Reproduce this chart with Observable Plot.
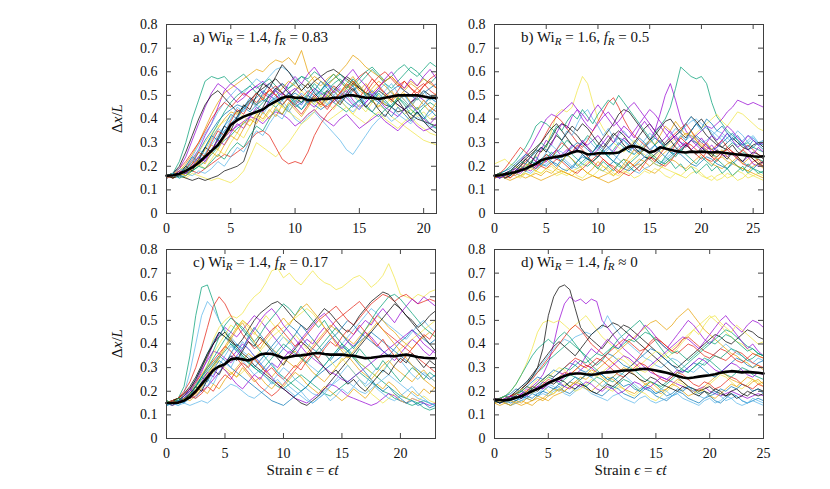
<!DOCTYPE html>
<html><head><meta charset="utf-8">
<script src="https://cdn.jsdelivr.net/npm/d3@7"></script>
<script src="https://cdn.jsdelivr.net/npm/@observablehq/plot@0.6"></script>
<style>
body{margin:0;background:#fff;}
#wrap{position:relative;width:830px;height:489px;overflow:hidden;background:#fff;}
#wrap svg{position:absolute;left:0;overflow:visible;}
#wrap svg, #wrap svg text, #wrap svg g{font-family:"Liberation Serif","DejaVu Serif",serif !important;}
</style></head><body><div id="wrap"></div>
<script>
// gnuplot default line colours
const lineColors = ["#9400d3","#009e73","#56b4e9","#e69f00","#f0e442","#0072b2","#e51e10","#000000"];
const yTicks = [0,0.1,0.2,0.3,0.4,0.5,0.6,0.7,0.8];
const xTicksA = [0,5,10,15,20];
const xTicksB = [0,5,10,15,20,25];
const xTicksC = [0,5,10,15,20];
const xTicksD = [0,5,10,15,20,25];
const strainStep = 0.5;

// Panel a) runs (Δx/L ×100), strain 0..21 step 0.5
const runsA = [
[16,15,17,19,23,27,33,38,45,52,55,53,50,52,54,51,49,53,55,52,48,46,50,53,51,49,47,50,52,48,45,47,50,53,51,48,46,44,47,50,48,45,43],
[16,17,22,30,40,48,56,58,57,58,55,57,59,56,53,55,57,54,51,53,55,58,56,53,50,52,55,57,54,52,55,58,61,58,55,53,56,59,62,60,57,55,58],
[15,16,16,18,20,22,25,29,33,37,40,43,45,47,46,44,47,50,48,44,40,38,41,43,40,37,34,31,27,25,29,33,37,40,42,39,41,44,46,43,40,42,45],
[16,17,18,21,25,30,36,42,47,51,53,55,57,59,61,60,63,65,64,66,63,69,60,56,54,57,59,56,53,55,52,50,53,56,54,51,49,52,55,53,50,48,51],
[15,16,16,15,17,16,15,14,15,14,13,15,18,24,30,28,26,24,27,30,34,38,40,43,47,50,48,51,53,50,48,45,43,46,44,41,39,37,35,33,31,30,29],
[16,16,17,19,22,26,31,35,39,42,44,46,45,43,46,48,47,49,51,48,45,47,49,46,44,46,48,50,47,45,48,50,52,49,47,45,48,50,47,44,46,49,47],
[16,15,16,17,18,17,19,21,23,25,24,26,28,31,34,35,33,28,23,21,22,21,26,33,38,42,45,48,51,55,58,60,57,54,56,58,55,52,50,53,55,52,50],
[16,15,16,15,14,15,14,15,16,18,19,20,22,30,40,45,50,53,51,49,52,55,53,56,58,60,61,59,57,55,53,51,50,48,46,45,43,44,42,40,39,38,37],
[16,17,19,24,31,38,45,51,55,53,50,47,49,52,54,56,53,50,48,51,53,50,47,45,48,51,54,52,49,46,44,47,50,48,45,43,41,44,46,43,40,38,41],
[15,16,16,17,18,20,22,25,28,31,33,36,38,41,44,47,50,52,55,53,56,58,57,60,58,55,57,59,56,54,57,60,62,59,56,58,61,63,60,58,61,64,62],
[16,16,18,20,24,29,34,38,43,47,50,53,51,54,57,55,58,61,62,60,57,54,51,49,52,55,52,48,45,43,46,49,52,50,47,45,42,40,38,41,39,37,36],
[15,16,17,18,20,23,27,32,36,40,43,42,45,48,46,49,52,50,53,56,54,52,55,58,56,54,57,60,63,67,65,62,60,58,56,58,55,53,56,54,57,55,53],
[16,17,18,20,23,26,30,34,37,39,41,43,41,39,42,44,46,48,45,43,41,39,42,44,41,39,41,43,45,42,40,38,41,43,40,38,36,39,41,38,36,34,33],
[15,16,16,17,19,21,24,27,31,35,38,41,44,47,49,52,50,48,46,49,51,49,47,50,52,55,53,51,49,52,54,51,49,47,50,52,54,52,50,48,51,53,55],
[16,17,19,22,26,30,35,40,44,47,45,48,51,49,47,50,52,54,51,48,46,49,52,50,47,45,48,51,54,56,53,51,55,58,60,57,54,56,53,51,54,56,53],
[16,17,20,26,33,40,46,50,52,49,46,43,45,48,51,53,55,57,54,51,49,47,50,48,46,49,52,55,58,56,53,51,49,52,50,48,46,44,47,49,52,50,48],
[15,16,17,18,19,21,23,26,29,32,35,37,39,41,40,38,41,43,42,40,37,39,42,44,41,39,37,40,42,39,36,38,40,42,39,37,35,38,40,37,35,36,38],
[16,16,17,19,21,24,28,33,38,43,47,50,52,54,51,49,47,45,48,50,46,44,47,49,52,50,47,45,43,46,48,45,43,41,44,46,49,47,44,42,45,47,45],
[15,16,15,17,16,18,17,19,22,20,24,28,26,31,35,33,38,42,40,45,48,46,50,47,51,54,52,49,53,50,47,51,48,52,55,51,48,50,46,49,52,48,50],
[16,17,16,19,22,20,25,29,27,32,36,34,39,37,42,40,44,41,46,43,47,50,46,49,45,48,52,49,53,56,52,55,51,54,50,47,51,48,45,49,46,43,47],
[16,15,17,16,18,21,19,23,27,25,30,34,32,37,41,39,43,47,45,50,48,52,49,46,50,47,44,48,45,42,46,43,47,50,46,49,45,42,44,41,43,40,42],
[15,17,16,20,24,22,28,33,31,37,42,40,45,49,46,51,55,52,48,51,47,44,48,52,56,53,50,47,51,54,50,46,43,47,44,41,45,42,39,43,40,44,41],
[16,16,18,17,21,26,24,30,35,33,39,44,42,47,51,48,53,50,46,49,45,42,46,50,47,44,48,51,55,52,49,53,57,54,51,48,52,56,53,50,54,57,59],
[16,15,17,20,18,23,28,26,32,37,35,41,46,44,50,55,53,58,63,60,56,52,55,51,48,52,49,46,50,53,49,45,48,44,41,45,48,44,40,43,39,36,34],
[15,16,18,17,20,24,22,27,31,29,34,38,36,41,45,43,48,52,50,55,58,55,59,62,58,55,51,54,58,61,57,54,50,53,57,60,56,53,57,54,58,61,57],
[16,17,15,16,18,20,19,22,25,23,27,30,28,33,37,35,40,44,42,46,49,47,51,55,52,56,59,56,53,57,54,50,47,51,48,45,49,46,42,45,41,38,36],
[16,17,19,18,22,27,25,31,36,34,40,45,43,48,45,42,46,49,46,43,47,51,48,52,49,46,50,53,50,47,44,48,51,48,52,55,51,48,45,49,46,50,47],
[15,16,17,16,19,23,21,26,24,29,33,31,36,40,38,43,40,45,42,47,44,41,45,49,46,50,54,51,55,58,54,51,48,45,49,52,48,51,47,44,48,45,43]
];
// mean (×1000)
const meanA = [160,162,168,180,195,215,240,265,290,330,375,395,410,420,430,440,460,475,490,495,490,490,480,480,485,485,490,490,500,500,495,490,490,485,490,495,500,500,500,500,495,490,490];

// Panel b) strain 0..26
const runsB = [
[16,15,16,17,16,18,19,18,20,21,22,24,23,25,27,26,28,30,29,31,33,30,28,26,29,32,30,27,25,28,31,35,42,50,55,48,40,35,32,30,28,27,29,26,25,24,26,23,22,24,21,20,22],
[16,17,16,18,17,19,20,22,21,23,25,24,26,28,31,29,27,30,33,31,28,26,24,27,30,28,26,25,27,29,31,34,37,40,45,53,62,60,58,57,58,55,47,41,38,35,33,31,29,30,28,27,26],
[15,16,17,16,18,19,18,20,22,21,23,25,27,26,24,26,28,30,32,29,27,25,27,30,33,35,32,30,28,31,34,32,30,28,31,33,35,37,39,40,38,36,35,33,31,34,32,30,29,31,33,30,28],
[16,15,16,15,17,16,15,16,17,16,18,17,19,18,17,16,18,19,17,16,15,16,17,19,21,23,22,20,21,19,18,17,19,21,23,22,20,19,21,23,25,23,21,20,19,21,22,20,19,18,20,21,19],
[21,22,23,21,20,19,20,22,24,26,28,35,42,44,43,45,52,58,55,47,40,36,33,30,28,26,28,31,29,27,25,24,26,28,30,32,30,28,31,34,36,38,40,42,39,37,40,43,42,40,38,36,35],
[16,16,17,18,17,19,18,20,19,21,20,22,21,19,18,20,22,24,23,21,19,18,20,22,21,19,18,20,22,24,23,21,20,22,24,26,25,23,21,20,22,24,23,21,20,19,21,23,22,20,19,21,20],
[15,16,15,17,18,20,22,24,27,30,34,38,41,39,36,33,30,28,31,35,39,43,47,49,45,40,36,33,31,29,27,26,28,30,32,34,36,38,35,32,30,28,27,29,31,28,26,25,27,29,27,25,24],
[16,17,16,18,19,21,23,25,27,26,29,32,36,38,37,35,33,30,28,26,29,32,35,38,42,44,43,40,37,34,31,33,36,39,40,37,34,32,35,38,40,37,33,30,28,27,29,26,25,24,26,25,23],
[16,15,17,18,20,22,25,28,32,36,40,42,41,43,45,47,44,40,37,35,38,41,43,40,37,34,32,35,38,41,44,42,39,36,34,32,30,29,31,33,35,37,36,38,40,43,45,48,47,46,47,46,45],
[16,17,18,20,22,25,28,32,37,39,38,36,34,31,28,25,23,21,20,22,24,26,24,22,20,19,21,23,25,27,26,24,22,21,23,25,27,29,31,30,28,26,25,24,26,28,30,28,26,25,24,23,22],
[15,16,15,16,17,16,18,17,19,20,21,23,25,24,22,20,19,21,23,26,28,30,28,25,23,21,19,18,17,19,20,22,21,23,25,27,29,31,33,32,30,31,33,35,34,32,30,29,31,33,32,30,31],
[15,16,15,14,15,16,17,16,15,14,15,16,17,18,17,16,15,14,15,16,15,14,13,14,15,17,19,21,23,22,20,22,24,26,28,30,32,34,33,31,29,27,25,23,24,22,21,20,19,18,17,16,15],
[16,17,16,18,17,16,18,19,18,17,19,20,18,17,16,18,19,20,22,21,19,18,17,16,18,20,22,24,26,25,23,21,20,19,18,17,16,15,17,18,16,15,14,16,17,15,16,18,17,15,16,17,16],
[16,17,18,19,21,23,25,24,26,28,27,25,23,24,26,28,30,29,27,25,24,26,28,30,32,31,29,27,26,28,30,32,30,28,26,25,27,29,31,33,31,29,27,28,30,32,34,31,29,27,28,30,29],
[16,17,19,22,25,28,26,24,22,20,19,21,23,22,20,18,17,19,21,23,25,23,21,20,18,17,16,18,20,22,24,23,21,20,22,25,28,30,29,27,25,23,22,24,26,27,25,23,21,20,22,23,21],
[15,16,17,18,20,22,24,26,28,30,33,36,38,35,32,29,27,25,23,22,24,27,30,33,35,33,30,28,26,24,23,25,27,29,31,33,35,38,41,39,36,33,31,29,28,30,32,30,28,27,29,30,28],
[16,17,15,16,18,17,19,21,20,23,22,25,27,24,26,29,27,31,28,25,27,30,33,30,34,37,35,32,36,39,36,33,30,32,35,31,28,30,27,29,32,29,26,28,31,34,31,28,30,27,25,28,26],
[15,16,17,16,18,20,19,22,24,21,23,26,24,22,25,23,20,22,24,21,19,22,20,18,21,23,20,18,20,22,25,23,21,24,22,19,21,18,20,17,19,21,18,20,17,19,16,18,20,17,19,18,17],
[16,15,17,16,18,20,18,21,24,22,26,29,27,31,35,33,38,42,44,40,37,33,36,32,29,31,28,25,27,24,26,29,27,30,33,36,34,38,41,38,35,37,34,31,33,30,32,35,33,30,32,29,31],
[16,17,16,18,17,19,21,20,18,20,23,21,19,22,25,23,21,19,17,19,22,20,18,16,18,21,24,27,25,28,31,29,33,37,35,39,36,33,35,31,28,30,27,25,27,24,22,24,21,23,25,22,20],
[15,16,15,17,16,15,17,16,18,17,19,18,16,17,19,18,16,15,17,16,18,20,19,17,16,18,17,15,16,18,17,19,18,16,15,17,16,18,20,19,17,15,16,14,15,17,16,14,15,17,16,15,14],
[16,15,16,18,17,19,18,20,22,21,24,22,20,23,21,19,22,25,23,26,29,27,24,22,25,28,26,29,32,30,27,29,26,24,27,30,33,31,35,38,36,40,38,35,37,34,31,33,30,28,31,29,27],
[15,16,17,15,17,19,18,21,19,22,25,23,27,30,28,26,29,27,24,22,20,23,21,19,17,19,22,20,18,21,24,22,25,28,26,29,32,30,27,25,23,26,24,22,25,28,26,24,27,25,23,21,20],
[16,17,15,16,18,20,23,21,25,28,26,30,33,31,34,37,35,38,36,33,30,28,31,34,32,29,27,30,33,36,38,35,32,29,31,28,26,29,27,25,28,26,24,27,25,23,26,24,22,25,23,21,22],
[16,15,16,17,19,18,21,24,22,27,31,29,34,38,36,41,44,42,39,43,46,43,40,37,39,42,45,47,44,41,38,35,37,34,31,33,30,28,31,29,27,30,33,31,34,37,35,32,30,33,31,29,30],
[16,17,16,18,20,22,21,24,27,30,28,33,37,35,39,42,40,44,41,38,42,45,48,46,50,47,44,41,38,35,32,29,31,28,26,24,27,25,23,21,24,22,20,23,21,19,22,20,18,21,19,17,18]
];
const meanB = [160,162,166,170,175,182,190,200,210,225,232,236,240,243,250,258,265,260,250,252,255,255,255,255,258,270,283,285,280,270,258,265,280,275,270,265,260,258,262,260,262,260,258,260,258,255,252,250,248,245,242,240,242];

// Panel c) strain 0..23
const runsC = [
[15,16,15,17,19,23,28,34,40,44,47,45,43,46,49,52,50,47,44,41,38,36,39,42,45,48,51,53,50,47,44,41,39,42,45,43,40,37,35,33,36,39,42,40,37,35,38],
[15,16,17,22,35,52,64,65,58,50,45,41,38,35,33,30,28,26,24,22,21,23,25,27,25,23,21,19,18,20,22,24,26,28,26,24,22,20,19,17,16,15,14,15,13,12,13],
[15,16,16,19,28,40,52,58,55,50,46,43,40,37,35,33,31,34,37,40,43,41,38,35,32,30,28,31,34,37,40,43,46,49,52,55,53,50,48,46,44,42,45,48,50,47,45],
[15,14,15,16,17,19,22,25,28,31,29,27,30,33,36,34,31,28,26,29,32,35,37,34,31,28,26,24,27,30,33,35,32,29,27,25,28,31,33,30,28,26,24,27,29,26,24],
[16,15,17,18,20,24,29,35,42,47,50,52,51,53,57,60,62,66,71,72,68,70,67,65,68,71,68,66,65,63,64,66,68,69,67,64,66,69,74,68,61,60,59,61,60,62,63],
[14,15,16,18,21,25,30,36,41,45,43,40,37,34,32,30,33,36,39,42,45,48,46,43,40,38,36,39,42,44,47,50,48,45,43,41,39,37,35,38,41,43,46,44,42,40,42],
[15,16,17,20,24,30,38,47,56,60,57,52,48,44,41,38,40,43,46,48,45,42,39,41,44,47,50,52,54,56,53,50,48,51,54,57,59,61,60,58,60,61,59,57,58,59,58],
[15,16,17,19,22,26,31,36,40,43,45,42,39,42,46,50,53,55,57,58,56,53,50,48,46,49,52,55,53,50,47,45,48,52,55,58,60,62,61,58,55,52,50,47,49,52,54],
[15,14,15,16,17,18,20,22,25,28,31,34,37,40,38,35,32,29,26,23,21,19,17,16,15,17,19,21,23,22,20,18,17,16,15,14,15,17,19,18,16,15,17,16,15,14,15],
[16,15,16,17,19,22,26,31,37,43,48,51,49,46,43,40,37,34,31,28,26,24,22,20,22,25,28,31,34,37,40,38,35,32,30,28,26,24,22,20,18,17,16,15,16,15,14],
[14,15,14,15,14,15,16,15,17,19,21,23,22,20,18,17,19,21,24,27,30,28,25,23,21,19,18,20,22,24,26,24,22,20,19,21,23,25,27,25,23,21,19,17,16,15,14],
[15,16,15,17,18,20,23,27,31,35,39,43,47,50,48,45,42,40,38,36,34,32,30,33,36,39,42,45,48,46,44,42,40,43,46,49,52,50,47,45,42,40,38,41,43,45,43],
[15,16,17,16,18,21,25,29,33,32,30,28,26,28,31,34,37,40,43,45,47,49,51,53,55,53,50,47,44,41,38,36,34,32,30,28,26,29,32,35,38,40,42,44,46,48,50],
[16,15,16,18,20,23,26,29,32,35,33,30,28,26,24,22,20,18,16,15,14,16,18,20,22,25,27,29,31,33,35,37,39,41,43,45,43,41,39,37,35,33,31,29,27,25,27],
[15,16,17,19,21,24,27,30,33,36,39,37,34,31,28,25,22,20,18,20,23,26,29,32,35,38,41,44,47,50,52,54,56,58,55,52,49,46,44,42,40,38,36,34,32,30,28],
[15,16,16,18,21,25,30,35,40,45,43,41,39,36,34,31,29,27,25,23,21,19,17,15,14,16,18,21,24,27,30,33,36,39,42,45,48,51,54,57,55,52,49,46,43,40,37],
[15,16,15,17,20,24,29,33,37,36,34,32,35,38,42,46,50,53,55,52,48,45,42,39,36,34,32,30,28,27,25,24,26,28,30,32,34,36,38,40,42,44,46,43,40,38,36],
[14,15,16,17,19,22,25,28,31,34,37,40,38,35,32,30,28,31,34,37,40,38,36,34,32,35,38,41,44,47,44,41,38,42,46,50,54,57,60,61,59,56,53,50,47,45,43],
[14,15,14,16,18,17,21,25,23,28,32,30,35,33,30,27,29,26,23,25,22,20,18,20,17,15,17,19,16,18,21,19,22,25,23,27,30,28,32,35,33,30,27,25,28,26,24],
[15,16,15,17,16,18,21,19,23,21,25,28,26,30,27,24,26,23,21,24,22,25,28,26,23,21,19,22,20,18,16,18,21,19,17,20,23,21,24,22,19,17,20,18,21,19,22],
[16,15,17,16,19,23,27,31,36,40,44,48,46,50,47,44,48,52,49,46,43,40,44,41,38,42,39,36,33,30,34,31,28,25,22,19,17,15,17,19,16,15,17,16,18,16,15],
[15,14,16,15,18,22,26,24,29,33,31,36,40,38,43,47,44,41,38,35,38,41,44,48,45,42,39,36,33,36,39,37,34,31,28,25,22,20,22,19,17,15,16,14,15,13,14],
[15,16,15,16,18,17,19,22,20,24,27,25,29,32,30,34,31,28,30,27,25,28,31,29,33,36,34,38,41,39,43,46,44,48,45,42,39,42,38,35,32,35,38,41,44,42,46],
[15,16,17,16,19,22,20,25,29,27,32,35,33,37,41,39,43,40,37,34,31,35,38,41,39,36,33,30,27,29,26,23,25,22,20,23,26,29,27,31,34,32,36,33,30,33,31],
[15,16,15,18,21,19,24,28,26,31,29,26,23,21,24,27,25,29,32,30,34,37,35,39,42,40,44,47,44,41,38,41,44,47,50,48,52,55,52,49,53,56,59,57,60,58,56],
[16,15,17,16,18,22,26,30,34,38,42,45,49,47,44,41,44,48,51,54,57,55,52,56,53,50,47,50,46,43,40,37,34,38,35,32,29,33,30,27,24,27,30,28,25,28,26],
[14,15,16,15,17,20,24,22,27,31,35,39,37,41,38,35,32,29,32,28,25,22,20,18,16,15,17,19,22,25,28,31,28,25,22,24,21,19,17,16,18,20,22,19,17,15,14],
[15,16,15,16,17,19,22,26,30,34,38,42,46,49,45,41,38,42,45,48,51,48,52,55,57,54,51,47,44,40,37,34,37,40,43,46,49,46,43,40,37,34,31,28,25,23,21]
];
const meanC = [150,150,152,160,175,200,230,260,290,305,315,335,340,335,330,340,355,360,358,350,340,345,350,352,355,360,362,358,355,355,355,352,350,345,340,342,345,348,350,348,352,355,350,345,342,340,340];

// Panel d) strain 0..25
const runsD = [
[17,16,17,18,17,19,20,22,24,27,32,40,50,57,60,58,59,57,59,58,50,47,44,41,38,36,34,32,30,28,27,26,25,24,23,22,21,20,21,22,20,19,18,19,20,19,18,17,18,19,18],
[16,17,16,18,19,21,23,26,28,30,33,35,37,39,41,39,37,35,33,31,33,36,39,42,44,46,48,50,47,44,41,38,35,33,31,29,28,30,32,34,33,31,29,27,26,28,30,29,27,26,25],
[16,15,17,18,20,22,24,26,29,32,35,38,40,42,41,43,44,45,44,46,47,52,48,45,42,40,38,36,34,33,31,30,32,34,33,31,29,28,30,32,34,36,38,40,38,36,35,33,32,34,33],
[15,16,15,14,15,16,15,14,16,17,16,18,19,20,22,24,26,25,27,29,31,33,35,37,39,41,43,45,47,49,50,48,46,48,51,53,55,52,49,46,44,42,40,38,36,35,33,32,30,31,29],
[16,17,18,20,23,27,32,38,45,49,50,49,50,48,46,48,50,52,49,46,43,41,39,37,35,33,31,29,28,30,32,34,36,38,40,42,44,46,48,50,52,50,48,45,43,41,40,38,36,35,34],
[16,17,16,15,16,17,18,17,19,20,19,21,22,20,19,21,23,22,20,19,18,20,22,21,19,18,17,19,21,20,18,17,16,18,20,19,17,16,15,17,18,16,15,17,19,18,16,15,16,17,16],
[16,17,18,17,19,21,23,25,28,31,34,37,40,43,46,48,46,43,40,38,36,34,32,30,28,30,32,35,38,41,43,41,39,37,39,42,43,41,39,37,36,35,34,33,35,37,36,34,32,31,30],
[16,17,16,18,19,21,23,26,30,38,52,60,64,65,63,55,47,44,42,40,38,41,44,46,48,47,45,43,41,39,37,35,33,31,30,32,34,36,38,40,42,44,43,41,40,42,44,46,45,43,42],
[16,15,16,17,18,17,19,20,22,21,23,25,24,26,28,27,29,31,30,28,27,29,31,33,35,34,32,30,29,31,33,35,37,39,41,43,42,40,38,41,44,47,50,52,49,47,45,48,50,49,47],
[16,17,18,20,23,27,31,35,38,40,42,40,43,45,43,40,37,34,31,29,27,25,24,26,28,30,29,27,25,24,23,22,24,26,28,30,32,34,36,38,40,42,44,46,45,43,41,39,38,36,35],
[15,16,15,14,15,16,17,16,18,19,18,20,21,19,18,20,22,21,19,18,17,16,18,19,17,16,15,17,18,16,15,16,17,18,19,17,16,15,14,16,17,15,16,18,17,15,14,15,16,15,14],
[15,14,15,16,15,14,15,16,17,16,18,19,21,20,22,24,23,21,20,22,24,26,25,23,21,20,19,21,23,22,20,19,21,23,25,24,22,21,20,22,24,26,28,27,25,24,23,22,24,25,23],
[17,16,17,18,19,18,20,19,21,22,20,19,21,23,22,20,21,23,25,24,22,21,20,22,21,19,18,20,19,17,16,18,20,22,24,23,21,20,19,21,23,25,27,26,24,22,21,23,25,24,22],
[16,17,18,19,21,20,22,24,26,25,27,29,28,30,32,31,29,28,30,32,34,36,35,33,31,30,32,34,36,38,37,35,33,31,29,28,30,32,31,29,27,26,28,30,32,34,33,31,30,32,33],
[16,15,17,18,19,20,22,21,23,25,27,26,28,30,32,34,33,31,30,32,34,36,38,40,42,41,39,37,38,40,42,41,39,37,36,38,40,39,37,35,34,36,38,37,35,33,32,34,36,35,34],
[16,17,16,18,20,22,24,27,30,33,36,39,41,39,37,35,38,41,44,46,48,47,49,48,46,44,42,40,38,36,34,32,30,28,26,24,22,21,20,21,22,20,19,18,20,21,19,18,20,21,20],
[16,17,16,18,17,19,21,20,22,24,23,26,28,27,30,33,31,35,38,36,39,42,40,38,41,44,42,45,48,46,43,40,38,41,44,47,50,48,45,42,40,43,46,49,47,44,41,38,40,37,35],
[16,15,17,16,18,20,19,22,21,24,26,25,23,25,27,26,24,22,24,26,25,23,21,23,25,24,22,20,22,24,23,21,23,25,27,29,28,30,32,31,33,35,34,36,38,37,35,33,34,36,35],
[16,17,15,16,17,16,18,20,19,21,23,22,20,22,24,23,25,27,26,24,22,24,26,28,27,25,23,21,22,20,19,21,20,18,19,21,22,20,18,17,19,20,18,16,17,18,16,15,17,16,15],
[15,16,15,14,16,15,17,16,18,17,19,21,20,22,24,23,25,27,29,28,26,24,26,28,30,29,27,25,23,24,22,20,21,23,22,20,18,19,21,20,18,17,19,21,23,22,24,26,25,23,24],
[16,17,18,17,19,21,20,23,25,24,26,28,30,29,27,29,31,30,28,26,28,30,32,34,33,31,29,31,33,35,37,36,34,36,38,41,43,46,44,48,51,52,49,47,45,48,46,44,42,40,41],
[16,15,16,17,16,18,17,19,18,20,22,21,23,22,24,26,25,27,26,28,27,25,26,24,22,23,21,20,22,21,19,20,18,19,21,20,22,21,19,20,18,19,21,20,22,21,23,22,20,21,19],
[16,17,16,18,19,18,20,22,21,23,25,24,26,28,27,29,31,30,32,34,33,31,29,27,26,28,30,32,31,29,27,25,24,26,28,27,25,23,22,24,23,21,22,24,26,25,23,22,21,23,22],
[16,15,16,17,18,17,19,21,20,22,24,23,25,24,22,21,23,22,20,19,21,23,22,24,26,28,27,25,24,26,25,23,22,21,20,22,21,19,18,20,19,21,20,18,19,17,18,20,19,18,19],
[17,16,17,18,17,19,18,20,22,21,23,25,24,22,21,23,22,24,23,21,20,22,21,19,20,22,24,23,21,22,24,26,25,27,29,28,30,32,34,33,31,29,28,30,32,31,29,27,26,28,27],
[16,17,18,17,19,20,22,21,23,25,27,26,28,30,29,31,33,32,34,36,35,37,39,38,40,42,41,43,45,44,42,40,38,36,37,35,33,35,37,39,41,40,42,44,43,41,39,37,38,36,35]
];
const meanD = [165,163,162,165,172,180,190,200,210,222,235,245,255,265,272,275,275,272,270,272,278,280,282,285,288,288,290,293,295,292,288,283,278,272,265,258,255,258,262,265,268,272,278,282,285,283,280,282,280,278,275];

const panels = [
  {runs: runsA, mean: meanA, xMax: 21, xTicks: xTicksA, left: 166, right: 436, top: 0, tag: "a)", wi: "1.4", fr: " = 0.83", bottom: false},
  {runs: runsB, mean: meanB, xMax: 26, xTicks: xTicksB, left: 494, right: 763, top: 0, tag: "b)", wi: "1.6", fr: " = 0.5", bottom: false},
  {runs: runsC, mean: meanC, xMax: 23, xTicks: xTicksC, left: 166, right: 435, top: 225, tag: "c)", wi: "1.4", fr: " = 0.17", bottom: true},
  {runs: runsD, mean: meanD, xMax: 25, xTicks: xTicksD, left: 494, right: 763, top: 225, tag: "d)", wi: "1.4", fr: " ≈ 0", bottom: true}
];

const FONT = "Liberation Serif, DejaVu Serif, serif";
const wrap = document.getElementById("wrap");
const W = 830;

panels.forEach((p) => {
  const H = p.bottom ? 264 : 245;
  const mt = 24, mb = H - 213;
  const fw = p.right - p.left, fh = 213 - mt;
  const strain = p.mean.map((_, i) => i * strainStep);
  const marks = [];
  p.runs.forEach((r, k) => {
    marks.push(Plot.line(r, {x: (d, i) => strain[i], y: d => d / 100, stroke: lineColors[k % lineColors.length], strokeWidth: 0.8, strokeOpacity: 0.9}));
  });
  marks.push(Plot.line(p.mean, {x: (d, i) => strain[i], y: d => d / 1000, stroke: "#000", strokeWidth: 2.6}));
  const tl = 5;
  marks.push(Plot.tickX(p.xTicks, {x: d => d, stroke: "#444", insetTop: fh - tl}));
  marks.push(Plot.tickX(p.xTicks, {x: d => d, stroke: "#444", insetBottom: fh - tl}));
  marks.push(Plot.tickY(yTicks, {y: d => d, stroke: "#444", insetRight: fw - tl}));
  marks.push(Plot.tickY(yTicks, {y: d => d, stroke: "#444", insetLeft: fw - tl}));
  marks.push(Plot.frame({stroke: "#404040", strokeWidth: 1}));
  const chart = Plot.plot({
    width: W, height: H,
    marginLeft: p.left, marginRight: W - p.right, marginTop: mt, marginBottom: mb,
    style: {background: "transparent", fontFamily: FONT, fontSize: "14px", color: "#111", overflow: "visible"},
    x: {domain: [0, p.xMax], ticks: p.xTicks, tickSize: 0, tickPadding: 10, label: null, tickFormat: d => String(d)},
    y: {domain: [0, 0.8], ticks: yTicks, tickSize: 0, tickPadding: 9, label: null, tickFormat: d => d === 0 ? "0" : d.toFixed(1)},
    marks
  });
  chart.style.top = p.top + "px";
  chart.style.pointerEvents = "none";
  wrap.appendChild(chart);
  const svg = d3.select(chart);
  // panel title
  const t = svg.append("text").attr("x", p.left + 27).attr("y", mt + 18).attr("text-anchor", "start")
    .attr("font-family", FONT).attr("font-size", 15).attr("fill", "#111");
  t.append("tspan").text(p.tag + " Wi");
  t.append("tspan").attr("font-style", "italic").attr("font-size", 11).attr("dy", 3).text("R");
  t.append("tspan").attr("dy", -3).text(" = " + p.wi + ", ");
  t.append("tspan").attr("font-style", "italic").text("f");
  t.append("tspan").attr("font-style", "italic").attr("font-size", 11).attr("dy", 3).text("R");
  t.append("tspan").attr("dy", -3).text(p.fr);
  // y label on left panels
  if (p.left < 300) {
    const yl = svg.append("text").attr("transform", `translate(${p.left - 44},${mt + fh / 2}) rotate(-90)`)
      .attr("text-anchor", "middle").attr("font-family", FONT).attr("font-size", 15).attr("fill", "#111");
    yl.append("tspan").text("Δ");
    yl.append("tspan").attr("font-style", "italic").text("x");
    yl.append("tspan").text("/");
    yl.append("tspan").attr("font-style", "italic").text("L");
  }
  if (p.bottom) {
    const xl = svg.append("text").attr("x", (p.left + p.right) / 2 + 2).attr("y", 250).attr("text-anchor", "middle")
      .attr("font-family", FONT).attr("font-size", 15).attr("fill", "#111");
    xl.append("tspan").text("Strain ");
    xl.append("tspan").attr("font-style", "italic").text("ϵ");
    xl.append("tspan").text(" = ");
    xl.append("tspan").attr("font-style", "italic").text("ϵ\u0307t");
  }
});
</script></body></html>
